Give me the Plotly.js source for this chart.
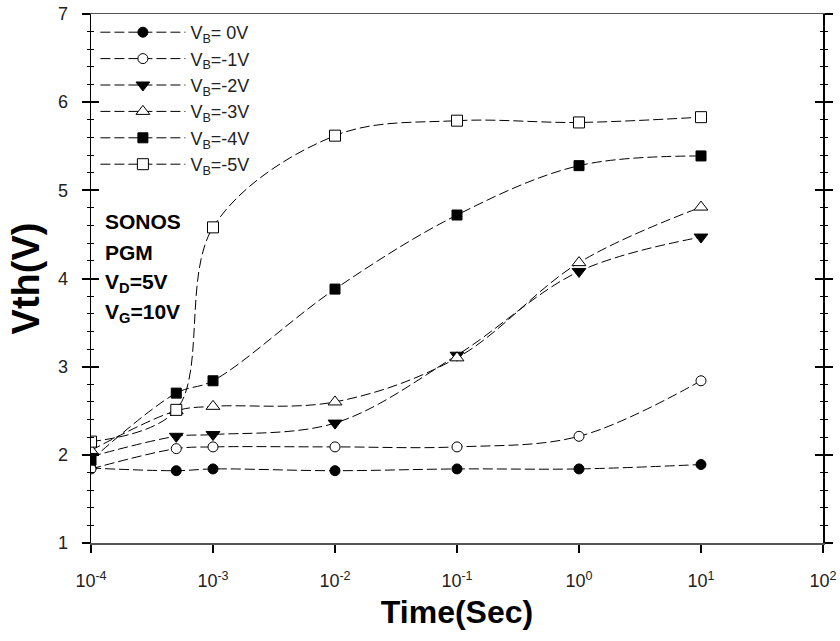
<!DOCTYPE html>
<html>
<head>
<meta charset="utf-8">
<script src="https://cdn.plot.ly/plotly-3.0.1.min.js"></script>
<style>html,body{margin:0;padding:0;background:#fff;}#chart{width:840px;height:641px;}</style>
</head>
<body>
<div id="chart"></div>
<script>
// ---- data ----
const times = [1e-4, 5e-4, 1e-3, 1e-2, 1e-1, 1, 10];
const vb0 = [1.85, 1.82, 1.84, 1.82, 1.84, 1.84, 1.89];
const vb1 = [1.84, 2.07, 2.09, 2.09, 2.09, 2.21, 2.84];
const vb2 = [1.98, 2.21, 2.23, 2.36, 3.13, 4.08, 4.47];
const vb3 = [2.05, 2.50, 2.55, 2.60, 3.10, 4.18, 4.81];
const vb4 = [1.94, 2.70, 2.84, 3.88, 4.72, 5.28, 5.39];
const vb5 = [2.15, 2.51, 4.58, 5.62, 5.79, 5.77, 5.83];
const seriesNames = ['V<sub>B</sub>= 0V', 'V<sub>B</sub>=-1V', 'V<sub>B</sub>=-2V', 'V<sub>B</sub>=-3V', 'V<sub>B</sub>=-4V', 'V<sub>B</sub>=-5V'];
const xTickVals = [1e-4, 1e-3, 1e-2, 1e-1, 1, 10, 100];
const xTickText = ['10<sup>-4</sup>', '10<sup>-3</sup>', '10<sup>-2</sup>', '10<sup>-1</sup>', '10<sup>0</sup>', '10<sup>1</sup>', '10<sup>2</sup>'];
const noteLines = ['SONOS', 'PGM', 'V<sub>D</sub>=5V', 'V<sub>G</sub>=10V'];

// ---- styles ----
const seriesY = [vb0, vb1, vb2, vb3, vb4, vb5];
const symbols = ['circle', 'circle', 'triangle-down', 'triangle-up', 'square', 'square'];
const fills = ['#000', '#fff', '#000', '#fff', '#000', '#fff'];
const sizes = [10, 10, 12, 12, 10, 11];
const FONT = '"Liberation Sans", Arial, sans-serif';

const traces = seriesY.map((ys, i) => ({
  x: times, y: ys, name: seriesNames[i], type: 'scatter', mode: 'lines+markers',
  legendgroup: 'g' + i,
  line: {color: '#000', width: 1, dash: '10px,4px', shape: 'spline', smoothing: 1},
  marker: {symbol: symbols[i], size: sizes[i], color: fills[i], line: {color: '#000', width: 1}}
}));
// helper trace to host the inside-tick overlay axis
traces.push({x: [], y: [], yaxis: 'y2', showlegend: false, hoverinfo: 'skip', type: 'scatter'});

const annotations = noteLines.map((t, i) => ({
  text: t, xref: 'paper', yref: 'paper', x: 0.016, y: [0.607, 0.550, 0.491, 0.435][i],
  xanchor: 'left', yanchor: 'middle', showarrow: false,
  font: {family: FONT, size: 21, color: '#000', weight: 'bold'}
}));

const layout = {
  width: 840, height: 641,
  margin: {l: 91, r: 17, t: 14, b: 98},
  paper_bgcolor: '#fff', plot_bgcolor: '#fff',
  showlegend: true,
  legend: {x: 0.006, y: 1.0, xanchor: 'left', yanchor: 'top', bgcolor: 'rgba(0,0,0,0)',
           font: {family: FONT, size: 18, color: '#222'}, tracegroupgap: 0, itemwidth: 85},
  xaxis: {
    type: 'log', range: [-4, 2], tickvals: xTickVals, ticktext: xTickText,
    ticks: 'outside', ticklen: 8, tickwidth: 2, tickcolor: '#000',
    showline: true, linecolor: '#555', linewidth: 1.5, mirror: true,
    showgrid: false, zeroline: false, ticklabelstandoff: 13,
    tickfont: {family: FONT, size: 18, color: '#222'},
    title: {text: 'Time(Sec)', font: {family: FONT, size: 32, color: '#000', weight: 'bold'}, standoff: 10}
  },
  yaxis: {
    range: [1, 7], dtick: 1, tick0: 1,
    ticks: 'outside', ticklen: 8, tickwidth: 2, tickcolor: '#000',
    minor: {dtick: 0.2, ticks: 'outside', ticklen: 3, tickwidth: 1, tickcolor: '#000', showgrid: false},
    showline: true, linecolor: '#000', linewidth: 1.5, mirror: 'ticks',
    showgrid: false, zeroline: false, ticklabelstandoff: 10,
    tickfont: {family: FONT, size: 18, color: '#222'},
    title: {text: 'Vth(V)', font: {family: FONT, size: 38, color: '#000', weight: 'bold'}, standoff: 6}
  },
  yaxis2: {
    overlaying: 'y', anchor: 'x', range: [1, 7], dtick: 1, tick0: 1,
    ticks: 'inside', ticklen: 8, tickwidth: 2, tickcolor: '#000',
    minor: {dtick: 0.2, ticks: 'inside', ticklen: 3, tickwidth: 1, tickcolor: '#000', showgrid: false},
    showline: true, linecolor: '#000', linewidth: 1.5, mirror: 'ticks',
    showticklabels: false, showgrid: false, zeroline: false
  },
  annotations: annotations
};

Plotly.newPlot('chart', traces, layout, {staticPlot: true, displayModeBar: false});
</script>
</body>
</html>
